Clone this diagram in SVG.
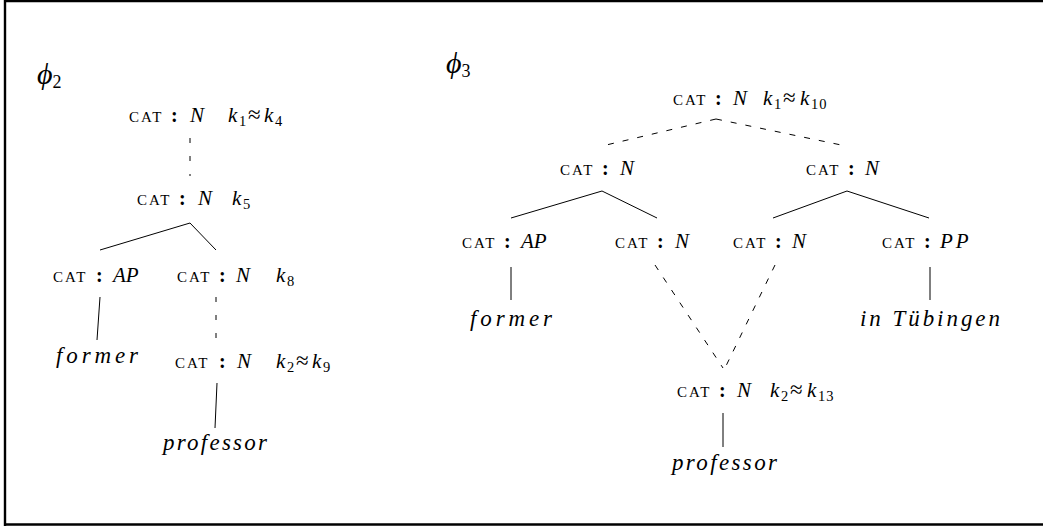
<svg xmlns="http://www.w3.org/2000/svg" width="1043" height="526" viewBox="0 0 1043 526">
<style>
text{font-family:"Liberation Serif","DejaVu Serif",serif;fill:#000}
.sc{font-size:15px;letter-spacing:2px}
.co{font-size:20px;font-weight:bold}
.it{font-size:21px;font-style:italic}
.sb{font-size:14.5px;letter-spacing:1px}
.ap{font-size:23px}
.w{font-size:23px;font-style:italic}
.phi{font-size:30px;font-style:italic}
.e{stroke:#000;stroke-width:1;fill:none}
.d{stroke-dasharray:6 9}
.dv{stroke-dasharray:5 13}
</style>
<rect x="0" y="0" width="1043" height="526" fill="#fff"/>
<path d="M5,526 V1 H1043 M5,524.5 H1043" stroke="#000" stroke-width="2.4" fill="none"/>

<text x="37" y="84" class="phi">ϕ<tspan font-style="normal" font-size="18px" dy="4">2</tspan></text>
<text x="446" y="73" class="phi">ϕ<tspan font-style="normal" font-size="18px" dy="4">3</tspan></text>

<g id="connectors">
<path class="e dv" d="M190,138 V176"/>
<path class="e" d="M190,223 L100,250 M190,223 L216,250"/>
<path class="e" d="M100,297 L97,340"/>
<path class="e dv" d="M216,297 V345"/>
<path class="e" d="M217,383 L215,428"/>
<path class="e d" d="M716,119 L602,146 M716,119 L846,146"/>
<path class="e" d="M602,191 L511,218 M602,191 L657,218"/>
<path class="e" d="M847,191 L773,218 M847,191 L929,218"/>
<path class="e" d="M511,267 V300"/>
<path class="e" d="M930,267 V300"/>
<path class="e d" d="M655,265 L723,368 M775,265 L725,368"/>
<path class="e" d="M723,413 V447"/>
</g>

<g id="l1"><text y="122"><tspan x="129" class="sc">CAT</tspan><tspan x="171" class="co">:</tspan><tspan x="190" class="it">N</tspan><tspan x="228" class="it">k</tspan><tspan x="239" dy="4" class="sb">1</tspan><tspan x="248" dy="-4" class="ap">≈</tspan><tspan x="264" class="it">k</tspan><tspan x="275" dy="4" class="sb">4</tspan></text></g>
<g id="l2"><text y="205"><tspan x="137" class="sc">CAT</tspan><tspan x="179" class="co">:</tspan><tspan x="198" class="it">N</tspan><tspan x="232" class="it">k</tspan><tspan x="243" dy="4" class="sb">5</tspan></text></g>
<g id="l3"><text y="282"><tspan x="53" class="sc">CAT</tspan><tspan x="96" class="co">:</tspan><tspan x="113" class="it">AP</tspan></text></g>
<g id="l4"><text y="282"><tspan x="177" class="sc">CAT</tspan><tspan x="219" class="co">:</tspan><tspan x="236" class="it">N</tspan><tspan x="276" class="it">k</tspan><tspan x="287" dy="4" class="sb">8</tspan></text></g>
<g id="l5"><text x="56" y="363" class="w" textLength="82" lengthAdjust="spacing">former</text></g>
<g id="l6"><text y="368"><tspan x="175" class="sc">CAT</tspan><tspan x="219" class="co">:</tspan><tspan x="237" class="it">N</tspan><tspan x="276" class="it">k</tspan><tspan x="287" dy="4" class="sb">2</tspan><tspan x="296" dy="-4" class="ap">≈</tspan><tspan x="312" class="it">k</tspan><tspan x="323" dy="4" class="sb">9</tspan></text></g>
<g id="l7"><text x="163" y="450" class="w" textLength="104" lengthAdjust="spacing">professor</text></g>

<g id="r1"><text y="105"><tspan x="673" class="sc">CAT</tspan><tspan x="715" class="co">:</tspan><tspan x="733" class="it">N</tspan><tspan x="763" class="it">k</tspan><tspan x="774" dy="4" class="sb">1</tspan><tspan x="783" dy="-4" class="ap">≈</tspan><tspan x="800" class="it">k</tspan><tspan x="811" dy="4" class="sb">10</tspan></text></g>
<g id="r2"><text y="175"><tspan x="560" class="sc">CAT</tspan><tspan x="602" class="co">:</tspan><tspan x="620" class="it">N</tspan></text></g>
<g id="r3"><text y="175"><tspan x="806" class="sc">CAT</tspan><tspan x="848" class="co">:</tspan><tspan x="865" class="it">N</tspan></text></g>
<g id="r4"><text y="248"><tspan x="462" class="sc">CAT</tspan><tspan x="504" class="co">:</tspan><tspan x="521" class="it">AP</tspan></text></g>
<g id="r5"><text y="248"><tspan x="615" class="sc">CAT</tspan><tspan x="657" class="co">:</tspan><tspan x="675" class="it">N</tspan></text></g>
<g id="r6"><text y="248"><tspan x="733" class="sc">CAT</tspan><tspan x="775" class="co">:</tspan><tspan x="792" class="it">N</tspan></text></g>
<g id="r7"><text y="248"><tspan x="882" class="sc">CAT</tspan><tspan x="924" class="co">:</tspan><tspan x="940" class="it" letter-spacing="3">PP</tspan></text></g>
<g id="r8"><text x="470" y="326" class="w" textLength="82" lengthAdjust="spacing">former</text></g>
<g id="r9"><text x="860" y="326" class="w" textLength="140" lengthAdjust="spacing">in Tübingen</text></g>
<g id="r10"><text y="397"><tspan x="677" class="sc">CAT</tspan><tspan x="719" class="co">:</tspan><tspan x="737" class="it">N</tspan><tspan x="770" class="it">k</tspan><tspan x="781" dy="4" class="sb">2</tspan><tspan x="790" dy="-4" class="ap">≈</tspan><tspan x="807" class="it">k</tspan><tspan x="818" dy="4" class="sb">13</tspan></text></g>
<g id="r11"><text x="672" y="470" class="w" textLength="105" lengthAdjust="spacing">professor</text></g>
</svg>
